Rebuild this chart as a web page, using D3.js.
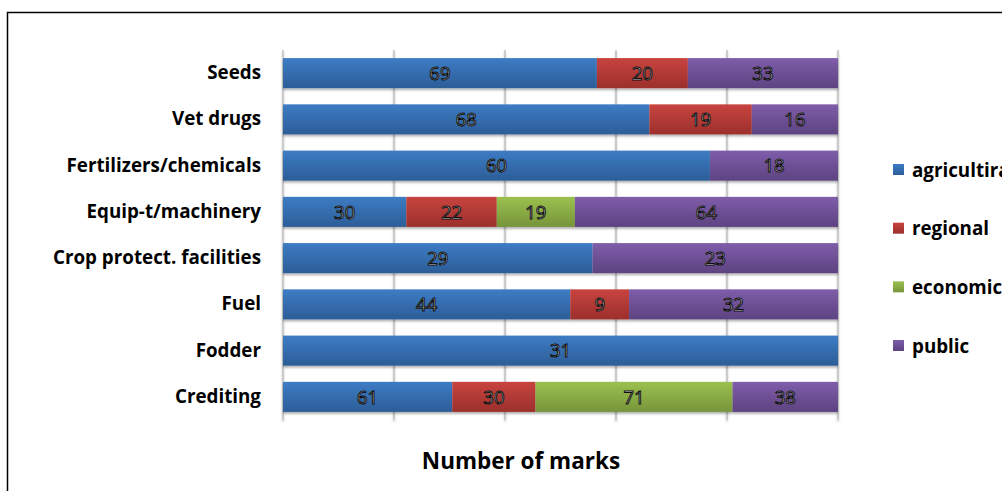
<!DOCTYPE html>
<html>
<head>
<meta charset="utf-8">
<script src="https://cdn.jsdelivr.net/npm/d3@7"></script>
<style>
  html, body { margin: 0; padding: 0; background: #fff; overflow: hidden; }
  svg { display: block; }
</style>
</head>
<body>
<svg id="chart" width="1002" height="491"></svg>
<script>
// Categories (top to bottom) and marks per source
const categories = ["Seeds", "Vet drugs", "Fertilizers/chemicals", "Equip-t/machinery",
                    "Crop protect. facilities", "Fuel", "Fodder", "Crediting"];
const seriesNames = ["agricultiral", "regional", "economic", "public"];
const agricultural = [69, 68, 60, 30, 29, 44, 31, 61];
const regional     = [20, 19, 0, 22, 0, 9, 0, 30];
const economic     = [0, 0, 0, 19, 0, 0, 0, 71];
const publicSrc    = [33, 16, 18, 64, 23, 32, 0, 38];
const tickValues   = [0, 0.2, 0.4, 0.6, 0.8, 1];
const axisTitle    = "Number of marks";

const FONT = "'Open Sans', 'Noto Sans', sans-serif";

const colors = [
  { top: "#3d7cc4", bottom: "#2c5d98" },
  { top: "#c8443f", bottom: "#9c2f2c" },
  { top: "#9cc04f", bottom: "#76953a" },
  { top: "#7f5daa", bottom: "#5d4381" }
];

const rows = categories.map((c, i) => ({
  cat: c,
  [seriesNames[0]]: agricultural[i],
  [seriesNames[1]]: regional[i],
  [seriesNames[2]]: economic[i],
  [seriesNames[3]]: publicSrc[i]
}));

const stacked = d3.stack().keys(seriesNames).offset(d3.stackOffsetExpand)(rows);

const svg = d3.select("#chart");
const defs = svg.append("defs");

colors.forEach((c, i) => {
  const g = defs.append("linearGradient").attr("id", "grad" + i)
    .attr("x1", 0).attr("y1", 0).attr("x2", 0).attr("y2", 1);
  g.append("stop").attr("offset", "0%").attr("stop-color", c.top);
  g.append("stop").attr("offset", "100%").attr("stop-color", c.bottom);
});

const shadow = defs.append("filter").attr("id", "shadow")
  .attr("x", "-5%").attr("y", "-20%").attr("width", "110%").attr("height", "150%");
shadow.append("feDropShadow").attr("dx", 0).attr("dy", 2).attr("stdDeviation", 1.2)
  .attr("flood-color", "#000").attr("flood-opacity", 0.3);

// Outer frame
svg.append("rect")
  .attr("x", 7.5).attr("y", 12.5).attr("width", 1100).attr("height", 600)
  .attr("fill", "#fff").attr("stroke", "#000").attr("stroke-width", 1.5);

const plot = { left: 283, right: 838, top: 50, bottom: 420 };

const x = d3.scaleLinear().domain([0, 1]).range([plot.left, plot.right]);
const y = d3.scaleBand().domain(categories).range([plot.top, plot.bottom])
  .paddingInner(0.35).paddingOuter(0.175);

// Vertical gridlines
svg.append("g").attr("filter", "url(#shadow)")
  .selectAll("line").data(tickValues).join("line")
  .attr("x1", d => x(d)).attr("x2", d => x(d))
  .attr("y1", plot.top).attr("y2", plot.bottom)
  .attr("stroke", "#b4b4b4").attr("stroke-width", 1.2);

// Stacked bars
const layers = svg.append("g").attr("filter", "url(#shadow)")
  .selectAll("g").data(stacked).join("g")
  .attr("fill", (d, i) => `url(#grad${i})`);

layers.selectAll("rect").data(d => d.filter(s => s[1] - s[0] > 0)).join("rect")
  .attr("x", d => x(d[0]))
  .attr("y", d => y(d.data.cat))
  .attr("width", d => x(d[1]) - x(d[0]))
  .attr("height", y.bandwidth());

// Value labels: light glyphs with a dark outline
const labels = svg.append("g")
  .attr("font-family", FONT)
  .attr("font-size", 18.5)
  .attr("text-anchor", "middle");
stacked.forEach(layer => {
  layer.filter(s => s[1] - s[0] > 0).forEach(s => {
    labels.append("text")
      .attr("x", (x(s[0]) + x(s[1])) / 2)
      .attr("y", y(s.data.cat) + y.bandwidth() / 2)
      .attr("dy", "0.36em")
      .attr("fill", "#f6f6f6")
      .attr("stroke", "#0d0d0d")
      .attr("stroke-width", 1.0)
      .text(s.data[layer.key]);
  });
});

// Category axis labels
const yAxis = d3.axisLeft(y).tickSize(0).tickPadding(22);
const yg = svg.append("g").attr("transform", `translate(${plot.left},0)`).call(yAxis);
yg.select(".domain").remove();
yg.selectAll("text")
  .attr("font-family", FONT)
  .attr("font-size", 18.8).attr("font-weight", "bold").attr("fill", "#000");

// Axis title
svg.append("text")
  .attr("x", 521).attr("y", 469)
  .attr("text-anchor", "middle")
  .attr("font-family", FONT)
  .attr("font-size", 22.5).attr("font-weight", "bold")
  .text(axisTitle);

// Legend
const legend = svg.append("g")
  .attr("font-family", FONT)
  .attr("font-size", 18.8).attr("font-weight", "bold");
const legendY = d3.scalePoint().domain(seriesNames).range([170, 346]);
seriesNames.forEach((name, i) => {
  const g = legend.append("g").attr("transform", `translate(893,${legendY(name)})`);
  g.append("rect").attr("x", 0).attr("y", -6).attr("width", 11).attr("height", 11)
    .attr("fill", `url(#grad${i})`);
  g.append("text").attr("x", 19).attr("y", 0).attr("dy", "0.36em").text(name);
});
</script>
</body>
</html>
